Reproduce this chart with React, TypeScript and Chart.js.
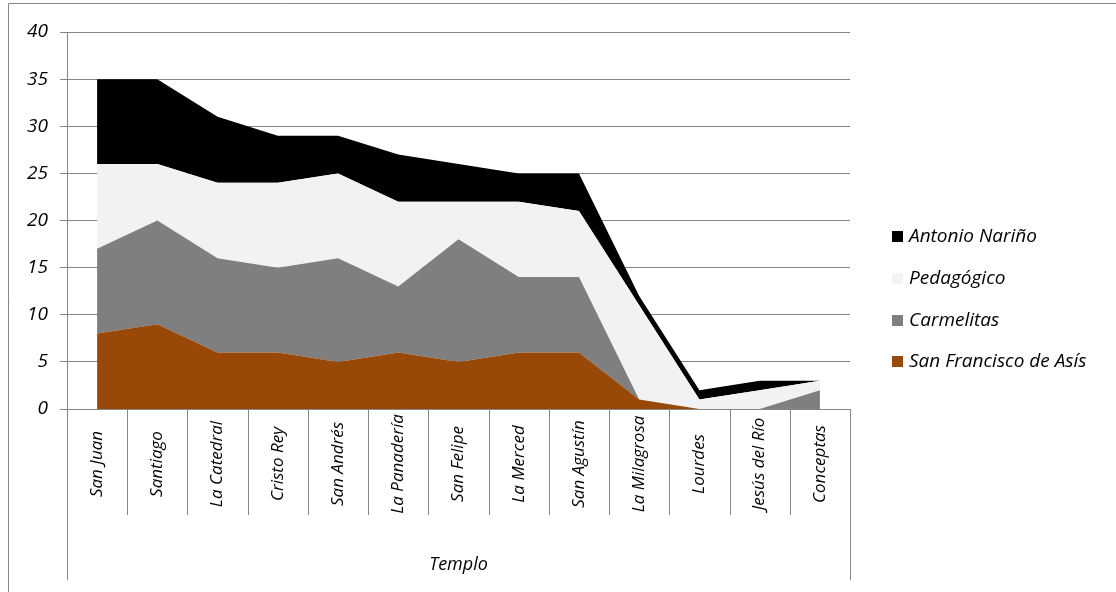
import React, { useEffect, useRef } from "react";
import { Chart, registerables } from "chart.js";

Chart.register(...registerables);

const categories = [
  "San Juan",
  "Santiago",
  "La Catedral",
  "Cristo Rey",
  "San Andrés",
  "La Panadería",
  "San Felipe",
  "La Merced",
  "San Agustín",
  "La Milagrosa",
  "Lourdes",
  "Jesús del Río",
  "Conceptas",
];

const sanFrancisco = [8, 9, 6, 6, 5, 6, 5, 6, 6, 1, 0, 0, 0];
const carmelitas = [9, 11, 10, 9, 11, 7, 13, 8, 8, 0, 0, 0, 2];
const pedagogico = [9, 6, 8, 9, 9, 9, 4, 8, 7, 10, 1, 2, 1];
const antonioNarino = [9, 9, 7, 5, 4, 5, 4, 3, 4, 1, 1, 1, 0];

const seriesNames = ["San Francisco de Asís", "Carmelitas", "Pedagógico", "Antonio Nariño"];
const seriesColors = ["#984807", "#7f7f7f", "#f2f2f2", "#000000"];
const seriesValues = [sanFrancisco, carmelitas, pedagogico, antonioNarino];

const yMin = 0;
const yMax = 40;
const yStep = 5;
const xAxisTitle = "Templo";

const FONT = "'Open Sans'";
const FONT_SIZE = 19;
const CAT_FONT_SIZE = 17;
const GRID = "#868686";
const TEXT = "#000000";

const decorPlugin = {
  id: "decor",
  afterDraw(chart: any) {
    const ctx = chart.ctx;
    const xs = chart.scales.x;
    const area = chart.chartArea;
    ctx.save();
    ctx.strokeStyle = GRID;
    ctx.lineWidth = 1;
    // outer frame (top + left)
    ctx.beginPath();
    ctx.moveTo(8.5, chart.height);
    ctx.lineTo(8.5, 3.5);
    ctx.lineTo(chart.width, 3.5);
    ctx.stroke();
    // category separators below the axis
    const n = categories.length;
    for (let i = 0; i <= n; i++) {
      const px = Math.round(xs.getPixelForValue(i - 0.5)) + 0.5;
      const end = i === 0 || i === n ? area.bottom + 171 : area.bottom + 106;
      ctx.beginPath();
      ctx.moveTo(px, area.bottom);
      ctx.lineTo(px, end);
      ctx.stroke();
    }
    // category labels, rotated and centred in the band
    ctx.fillStyle = TEXT;
    ctx.font = `italic ${CAT_FONT_SIZE}px ${FONT}`;
    ctx.textAlign = "center";
    ctx.textBaseline = "middle";
    const bandMid = area.bottom + 55;
    categories.forEach((c, i) => {
      const px = xs.getPixelForValue(i);
      ctx.save();
      ctx.translate(px, bandMid);
      ctx.rotate(-Math.PI / 2);
      ctx.fillText(c, 0, 0);
      ctx.restore();
    });
    // axis title
    ctx.font = `italic ${FONT_SIZE - 1}px ${FONT}`;
    ctx.fillText(xAxisTitle, (area.left + area.right) / 2, area.bottom + 156);
    // legend
    ctx.font = `italic ${FONT_SIZE}px ${FONT}`;
    const lx = area.right + 42;
    const startY = chart.height / 2 - 59.5;
    const gap = 41.8;
    ctx.textAlign = "left";
    for (let k = 0; k < seriesNames.length; k++) {
      const idx = seriesNames.length - 1 - k;
      const cy = startY + k * gap;
      ctx.fillStyle = seriesColors[idx];
      ctx.fillRect(lx, Math.round(cy - 5.5), 11, 11);
      ctx.fillStyle = TEXT;
      ctx.fillText(seriesNames[idx], lx + 17, cy);
    }
    ctx.restore();
  },
};

export default function App() {
  const canvasRef = useRef<HTMLCanvasElement | null>(null);

  useEffect(() => {
    let chart: Chart | null = null;
    let cancelled = false;
    const make = () => {
      if (cancelled || !canvasRef.current) return;
      chart = new Chart(canvasRef.current, {
        type: "line",
        data: {
          labels: categories,
          datasets: seriesValues.map((vals, i) => ({
            label: seriesNames[i],
            data: vals,
            backgroundColor: seriesColors[i],
            borderColor: seriesColors[i],
            borderWidth: 0,
            pointRadius: 0,
            tension: 0,
            fill: i === 0 ? "origin" : "-1",
          })),
        },
        options: {
          animation: false,
          responsive: false,
          maintainAspectRatio: false,
          layout: { padding: { left: 0, top: 32, right: 266, bottom: 183 } },
          plugins: {
            legend: { display: false },
            tooltip: { enabled: false },
            title: { display: false },
          },
          scales: {
            x: {
              type: "category",
              display: false,
              offset: true,
            },
            y: {
              stacked: true,
              min: yMin,
              max: yMax,
              afterFit: (s: any) => {
                s.width = 67;
              },
              ticks: {
                stepSize: yStep,
                padding: 12,
                color: TEXT,
                font: { family: FONT, size: FONT_SIZE, style: "italic" },
              },
              grid: {
                color: GRID,
                lineWidth: 1,
                drawTicks: true,
                tickLength: 7,
              },
              border: { display: true, color: GRID, width: 1 },
            },
          },
        },
        plugins: [decorPlugin],
      });
    };
    const fonts: any = (document as any).fonts;
    if (fonts && fonts.load) {
      Promise.all([
        fonts.load(`italic ${FONT_SIZE}px ${FONT}`),
        fonts.load(`italic ${CAT_FONT_SIZE}px ${FONT}`),
      ]).then(make, make);
    } else {
      make();
    }
    return () => {
      cancelled = true;
      if (chart) chart.destroy();
    };
  }, []);

  return (
    <div style={{ position: "fixed", left: 0, top: 0, width: 1116, height: 592, background: "#fff" }}>
      <canvas ref={canvasRef} width={1116} height={592} style={{ width: 1116, height: 592, display: "block" }} />
    </div>
  );
}
